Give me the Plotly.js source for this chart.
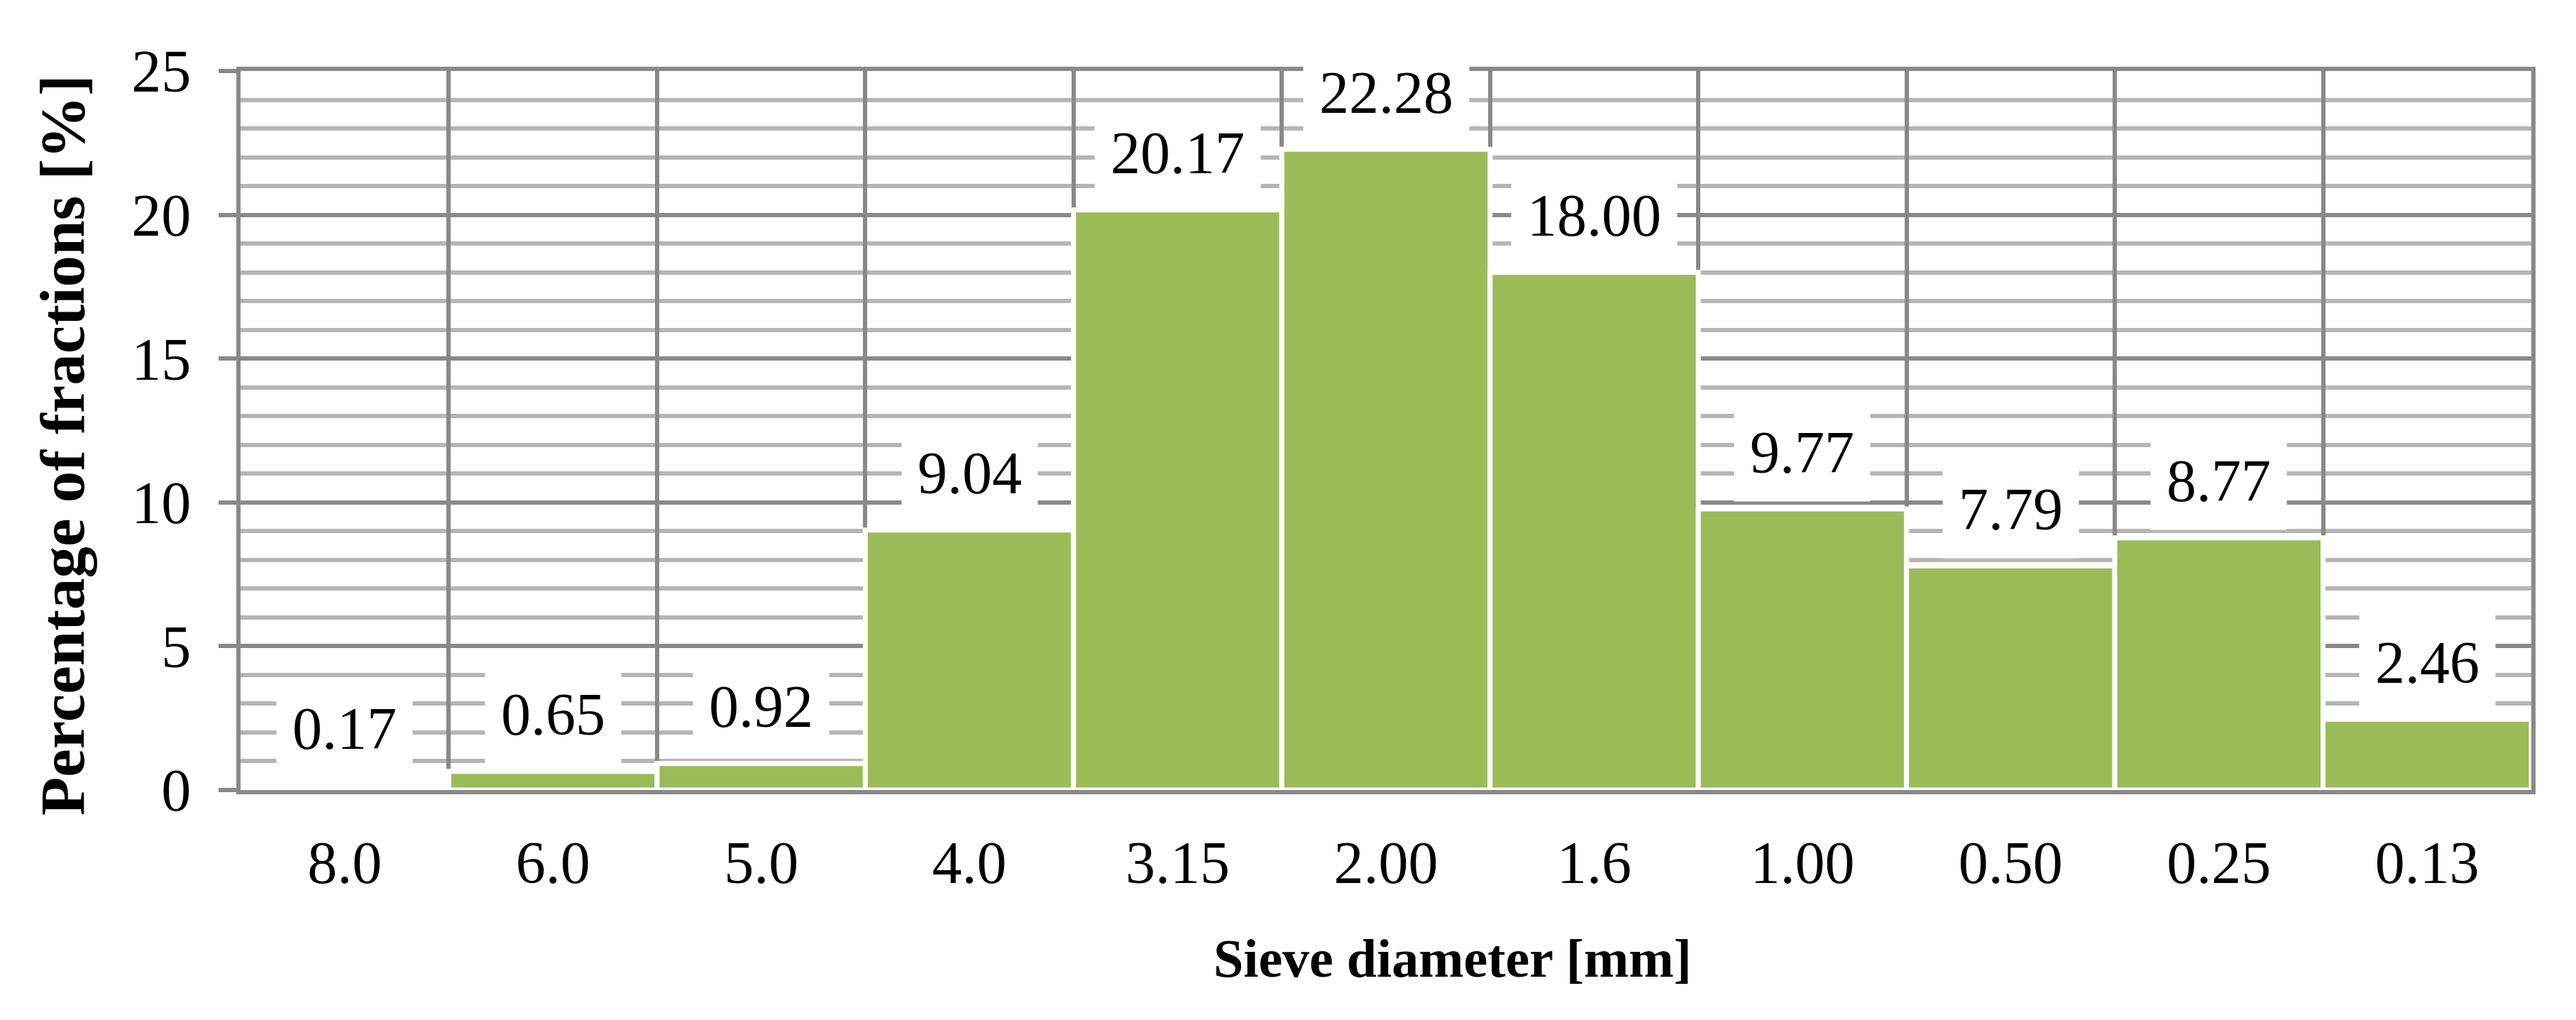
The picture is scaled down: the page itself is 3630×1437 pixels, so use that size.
<!DOCTYPE html>
<html>
<head>
<meta charset="utf-8">
<script src="https://cdn.plot.ly/plotly-3.0.1.min.js"></script>
<style>
html, body { margin: 0; padding: 0; background: #ffffff; }
#chart { width: 3630px; height: 1437px; }
</style>
</head>
<body>
<div id="chart"></div>
<script>
const sieveSizes = ["8.0", "6.0", "5.0", "4.0", "3.15", "2.00", "1.6", "1.00", "0.50", "0.25", "0.13"];
const fractionPercent = [0.17, 0.65, 0.92, 9.04, 20.17, 22.28, 18.00, 9.77, 7.79, 8.77, 2.46];
const valueLabels = ["0.17", "0.65", "0.92", "9.04", "20.17", "22.28", "18.00", "9.77", "7.79", "8.77", "2.46"];
const yTickValues = [0, 5, 10, 15, 20, 25];
const xTitle = "Sieve diameter [mm]";
const yTitle = "Percentage of fractions [%]";

const FONT = "Liberation Serif, Times New Roman, serif";
const MAJOR = "#898989";
const MINOR = "#b5b5b5";

const trace = {
  type: "bar",
  x: sieveSizes,
  y: fractionPercent,
  marker: { color: "#9bbb59", line: { color: "#ffffff", width: 7 } },
  hoverinfo: "skip"
};

// category axis: annotation x given by category index (numeric-looking names would be read as indices)
const annotations = sieveSizes.map((s, i) => ({
  x: i,
  y: fractionPercent[i],
  xref: "x",
  yref: "y",
  text: valueLabels[i],
  showarrow: false,
  yanchor: "middle",
  yshift: 80,
  bgcolor: "#ffffff",
  borderpad: 22,
  font: { family: FONT, size: 84, color: "#000000" }
}));

// x-axis title, placed slightly right of the plot centre as in the reference
annotations.push({
  xref: "paper",
  yref: "paper",
  x: 0.529,
  y: -0.234,
  xanchor: "center",
  yanchor: "middle",
  showarrow: false,
  text: "<b>" + xTitle + "</b>",
  font: { family: FONT, size: 76, color: "#000000" }
});

// y-axis title, rotated, centred a little below the plot centre as in the reference
annotations.push({
  xref: "paper",
  yref: "paper",
  x: (88 - 339) / 3228,
  y: (1113 - 627) / 1013,
  xanchor: "center",
  yanchor: "middle",
  textangle: -90,
  showarrow: false,
  text: "<b>" + yTitle + "</b>",
  font: { family: FONT, size: 89, color: "#000000" }
});

const layout = {
  width: 3630,
  height: 1437,
  paper_bgcolor: "#ffffff",
  plot_bgcolor: "#ffffff",
  margin: { l: 339, r: 63, t: 100, b: 324 },
  bargap: 0,
  showlegend: false,
  font: { family: FONT, size: 82, color: "#000000" },
  xaxis: {
    type: "category",
    tickson: "boundaries",
    showgrid: true,
    gridcolor: MAJOR,
    gridwidth: 6,
    ticks: "",
    showline: true,
    linecolor: MAJOR,
    linewidth: 6,
    mirror: true,
    zeroline: false,
    ticklabelstandoff: 24,
    tickfont: { family: FONT, size: 84, color: "#000000" }
  },
  yaxis: {
    range: [0, 25],
    tickvals: yTickValues,
    ticktext: yTickValues.map(String),
    showgrid: true,
    gridcolor: MAJOR,
    gridwidth: 6,
    ticks: "outside",
    ticklen: 25,
    tickwidth: 6,
    tickcolor: MAJOR,
    minor: { dtick: 1, showgrid: true, gridcolor: MINOR, gridwidth: 6, ticks: "" },
    showline: true,
    linecolor: MAJOR,
    linewidth: 6,
    mirror: true,
    zeroline: false,
    ticklabelstandoff: 22,
    tickfont: { family: FONT, size: 84, color: "#000000" }
  },
  annotations: annotations
};

Plotly.newPlot("chart", [trace], layout, { staticPlot: true, displayModeBar: false });
</script>
</body>
</html>
